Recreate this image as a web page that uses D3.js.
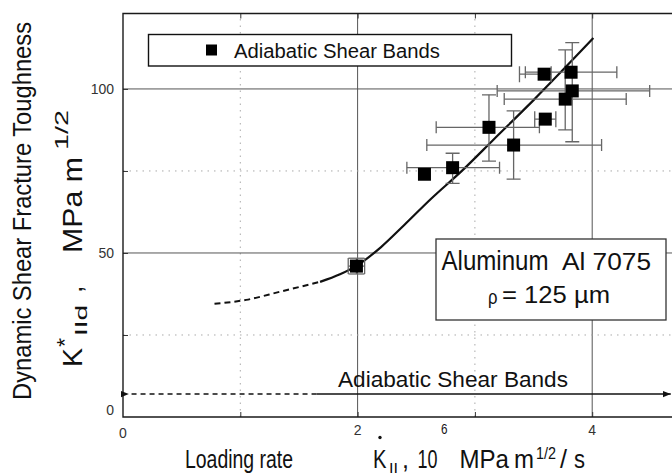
<!DOCTYPE html>
<html>
<head>
<meta charset="utf-8">
<script src="https://cdnjs.cloudflare.com/ajax/libs/d3/7.8.5/d3.min.js"></script>
<style>
	body { margin: 0; background: #fff; }
	svg { display: block; font-family: "Liberation Sans", Arial, sans-serif; }
</style>
</head>
<body>
<div class="visualisation"></div>
<script>
//----------------------------------------------------------------------------------------------------------------------------
//DATA
//----------------------------------------------------------------------------------------------------------------------------
var rateX   = [1.99, 2.57, 2.81, 3.12, 3.33, 3.60, 3.59, 3.77, 3.83, 3.82];
var toughY  = [46.0, 74.0, 76.0, 88.3, 82.9, 90.8, 104.5, 96.9, 99.4, 105.1];
var rateLo  = [1.92, null, 2.42, 2.67, 2.59, 3.51, 3.38, 3.25, 3.19, 3.43];
var rateHi  = [2.06, null, 3.21, 3.55, 4.08, 3.69, 3.65, 4.29, 4.49, 4.21];
var toughLo = [43.6, null, 71.2, 78.0, 72.5, null, null, 87.5, 83.9, null];
var toughHi = [48.4, null, 80.4, 98.2, 93.3, null, null, 111.9, 114.1, null];

//fit curve, dashed extrapolation then solid part
var fitDashX  = [0.78, 1.05, 1.34, 1.68];
var fitDashY  = [34.5, 35.7, 38.2, 41.2];
var fitSolidX = [1.68, 1.85, 2.0, 2.2, 2.4, 2.62, 2.9, 3.16, 3.5, 4.01];
var fitSolidY = [41.2, 43.5, 46.3, 51.8, 58.6, 66.3, 75.4, 84.6, 96.6, 115.5];

//regime arrow at the bottom
var bandArrowX = [0.05, 1.65, 4.67];
var bandArrowY = 7.0;

var xTickLabels = [0, 2, 4];
var yTickLabels = [0, 50, 100];
var xGridSolid = [2, 4], xGridDot = [1, 3];
var yGridSolid = [50, 100], yGridDot = [25, 75];

var legendLabel = "Adiabatic Shear Bands";

//----------------------------------------------------------------------------------------------------------------------------
//CANVAS
//----------------------------------------------------------------------------------------------------------------------------
var W = 672, H = 475;
var svg = d3.select(".visualisation").append("svg")
	.attr("width", W)
	.attr("height", H);

var x = d3.scaleLinear().domain([0, 5]).range([123, 709.5]);
var y = d3.scaleLinear().domain([0, 123]).range([417, 13.5]);

var defs = svg.append("defs");
defs.append("clipPath").attr("id", "plotclip")
	.append("rect")
	.attr("x", x(0)).attr("y", y(123))
	.attr("width", x(5) - x(0)).attr("height", y(0) - y(123));

function arrowMarker(id, dir){
	defs.append("marker")
		.attr("id", id)
		.attr("viewBox", "0 0 10 10")
		.attr("refX", dir > 0 ? 10 : 0).attr("refY", 5)
		.attr("markerWidth", 5).attr("markerHeight", 5)
		.attr("markerUnits", "strokeWidth")
		.attr("orient", "auto")
	  .append("path")
		.attr("d", dir > 0 ? "M0,1 L10,5 L0,9 Z" : "M10,1 L0,5 L10,9 Z")
		.attr("fill", "#111");
}
arrowMarker("arrowL", -1);
arrowMarker("arrowR", 1);

//text piece squeezed to a given width (the scanned figure uses a narrow face)
function addText(parent, str, px, py, size, len, anchor){
	var t = parent.append("text")
		.attr("x", px).attr("y", py)
		.attr("font-size", size)
		.attr("fill", "#111")
		.attr("text-anchor", anchor || "start")
		.text(str);
	if(len) t.attr("textLength", len).attr("lengthAdjust", "spacingAndGlyphs");
	return t;
}

//----------------------------------------------------------------------------------------------------------------------------
//GRID
//----------------------------------------------------------------------------------------------------------------------------
var grid = svg.append("g").attr("clip-path", "url(#plotclip)");

grid.selectAll(".xg").data(xGridSolid.concat(xGridDot)).enter().append("line")
	.attr("x1", d => x(d)).attr("x2", d => x(d))
	.attr("y1", y(0)).attr("y2", y(123))
	.attr("stroke", d => xGridSolid.includes(d) ? "#555" : "#aaa")
	.attr("stroke-width", 1)
	.attr("stroke-dasharray", d => xGridSolid.includes(d) ? null : "1.5,5");

grid.selectAll(".yg").data(yGridSolid.concat(yGridDot)).enter().append("line")
	.attr("x1", x(0)).attr("x2", x(5))
	.attr("y1", d => y(d)).attr("y2", d => y(d))
	.attr("stroke", d => yGridSolid.includes(d) ? "#555" : "#aaa")
	.attr("stroke-width", 1)
	.attr("stroke-dasharray", d => yGridSolid.includes(d) ? null : "1.5,5");

//----------------------------------------------------------------------------------------------------------------------------
//AXES
//----------------------------------------------------------------------------------------------------------------------------
svg.append("g")
	.attr("transform", "translate(0," + y(0) + ")")
	.call(d3.axisBottom(x).tickValues([1, 2, 3, 4]).tickSize(-5).tickFormat(""))
	.call(g => g.select(".domain").remove())
	.selectAll("line").attr("stroke", "#333");

svg.append("g")
	.attr("transform", "translate(0," + y(123) + ")")
	.call(d3.axisTop(x).tickValues([1, 2, 3, 4]).tickSize(-5).tickFormat(""))
	.call(g => g.select(".domain").remove())
	.selectAll("line").attr("stroke", "#333");

svg.append("g")
	.attr("transform", "translate(" + x(0) + ",0)")
	.call(d3.axisLeft(y).tickValues([25, 50, 75, 100]).tickSize(-5).tickFormat(""))
	.call(g => g.select(".domain").remove())
	.selectAll("line").attr("stroke", "#333");

//frame (right side is cut off by the window)
svg.append("path")
	.attr("d", "M" + x(5) + "," + y(123) + " H" + x(0) + " V" + y(0) + " H" + x(5))
	.attr("fill", "none")
	.attr("stroke", "#1a1a1a")
	.attr("stroke-width", 1.4);

svg.selectAll(".xl").data(xTickLabels).enter().append("text")
	.attr("x", d => x(d)).attr("y", d => d === 0 ? 438 : 435)
	.attr("text-anchor", "middle")
	.attr("font-size", 14).attr("fill", "#333")
	.text(d => d);

svg.selectAll(".yl").data(yTickLabels).enter().append("text")
	.attr("x", 114).attr("y", d => y(d) + 5 - (d === 0 ? 7 : 0))
	.attr("text-anchor", "end")
	.attr("font-size", 14).attr("fill", "#333")
	.text(d => d);

//----------------------------------------------------------------------------------------------------------------------------
//AXIS TITLES
//----------------------------------------------------------------------------------------------------------------------------
//rotated frame: screen (X,Y) -> text (-Y, X)
var yt = svg.append("g").attr("transform", "rotate(-90)");
addText(yt, "Dynamic Shear Fracture Toughness", -400, 31, 25, 378);
addText(yt, "K", -367, 82, 27, 19);
addText(yt, "*", -347, 72, 22, 9);
addText(yt, "IId", -336, 87, 16, 31);
addText(yt, ",", -293, 82, 27);
addText(yt, "MPa m", -253, 82, 27, 96);
addText(yt, "1/2", -150, 68, 18, 40);

var xt = svg.append("g");
addText(xt, "Loading rate", 185, 468, 25, 108);
addText(xt, "K", 373, 468, 26, 13.5);
xt.append("circle").attr("cx", 380).attr("cy", 437.5).attr("r", 1.7).attr("fill", "#111");
addText(xt, "II", 389, 473, 15, 9);
addText(xt, ",", 402, 468, 25);
addText(xt, "10", 417.5, 468, 25, 20);
addText(xt, "6", 441, 434, 15, 6.5);
addText(xt, "MPa", 459.5, 468, 25, 49.5);
addText(xt, "m", 514, 468, 25, 20);
addText(xt, "1/2", 536, 459, 16, 20);
addText(xt, "/", 560, 468, 25, 7);
addText(xt, "s", 574, 468, 25, 11);

//----------------------------------------------------------------------------------------------------------------------------
//FIT CURVE + REGIME ARROW
//----------------------------------------------------------------------------------------------------------------------------
var plot = svg.append("g").attr("clip-path", "url(#plotclip)");
var line = d3.line().x(d => x(d[0])).y(d => y(d[1])).curve(d3.curveMonotoneX);

plot.append("path")
	.attr("d", line(d3.zip(fitDashX, fitDashY)))
	.attr("fill", "none").attr("stroke", "#111")
	.attr("stroke-width", 2).attr("stroke-dasharray", "6,4");

plot.append("path")
	.attr("d", line(d3.zip(fitSolidX, fitSolidY)))
	.attr("fill", "none").attr("stroke", "#111")
	.attr("stroke-width", 2.2);

svg.append("line")
	.attr("x1", x(bandArrowX[1])).attr("x2", x(bandArrowX[0]))
	.attr("y1", y(bandArrowY)).attr("y2", y(bandArrowY))
	.attr("stroke", "#111").attr("stroke-width", 1.6)
	.attr("stroke-dasharray", "5,4")
	.attr("marker-end", "url(#arrowL)");

svg.append("line")
	.attr("x1", x(bandArrowX[1])).attr("x2", x(bandArrowX[2]))
	.attr("y1", y(bandArrowY)).attr("y2", y(bandArrowY))
	.attr("stroke", "#111").attr("stroke-width", 1.6)
	.attr("marker-end", "url(#arrowR)");

addText(svg, legendLabel, 338, 387, 22, 230);

//----------------------------------------------------------------------------------------------------------------------------
//ERROR BARS + POINTS
//----------------------------------------------------------------------------------------------------------------------------
var pts = d3.range(rateX.length).map(i => ({
	x: rateX[i], y: toughY[i],
	xlo: rateLo[i], xhi: rateHi[i], ylo: toughLo[i], yhi: toughHi[i]
}));

var eb = plot.append("g")
	.attr("stroke", "#666").attr("stroke-width", 1.3).attr("fill", "none");

pts.filter(d => d.xlo !== null).forEach(function(d){
	var cap = d.xhi - d.xlo < 0.3 ? 8 : 6;
	eb.append("line").attr("x1", x(d.xlo)).attr("x2", x(d.xhi)).attr("y1", y(d.y)).attr("y2", y(d.y));
	eb.append("line").attr("x1", x(d.xlo)).attr("x2", x(d.xlo)).attr("y1", y(d.y) - cap).attr("y2", y(d.y) + cap);
	eb.append("line").attr("x1", x(d.xhi)).attr("x2", x(d.xhi)).attr("y1", y(d.y) - cap).attr("y2", y(d.y) + cap);
});

pts.filter(d => d.ylo !== null).forEach(function(d){
	var cap = d.yhi - d.ylo < 6 ? 8 : 7;
	eb.append("line").attr("x1", x(d.x)).attr("x2", x(d.x)).attr("y1", y(d.ylo)).attr("y2", y(d.yhi));
	eb.append("line").attr("x1", x(d.x) - cap).attr("x2", x(d.x) + cap).attr("y1", y(d.ylo)).attr("y2", y(d.ylo));
	eb.append("line").attr("x1", x(d.x) - cap).attr("x2", x(d.x) + cap).attr("y1", y(d.yhi)).attr("y2", y(d.yhi));
});

var sq = 13;
plot.selectAll(".pt").data(pts).enter().append("rect")
	.attr("x", d => x(d.x) - sq / 2).attr("y", d => y(d.y) - sq / 2)
	.attr("width", sq).attr("height", sq)
	.attr("fill", "#000");

//----------------------------------------------------------------------------------------------------------------------------
//LEGEND + NOTE BOX
//----------------------------------------------------------------------------------------------------------------------------
svg.append("rect")
	.attr("x", 148.5).attr("y", 34.5).attr("width", 363).attr("height", 31.5)
	.attr("fill", "#fff").attr("stroke", "#111").attr("stroke-width", 1.4);
svg.append("rect")
	.attr("x", 206).attr("y", 44.5).attr("width", 11).attr("height", 11)
	.attr("fill", "#000");
addText(svg, legendLabel, 234, 57.5, 20, 206);

svg.append("rect")
	.attr("x", 436).attr("y", 239).attr("width", 230).attr("height", 81)
	.attr("fill", "#fff").attr("stroke", "#333").attr("stroke-width", 1.3);

addText(svg, "Aluminum", 441.5, 270, 27, 107);
addText(svg, "Al 7075", 562, 270, 23, 89);
addText(svg, "\u03C1", 488, 304, 21, 9.5);
addText(svg, "= 125 \u00B5m", 502, 303, 24, 108);
</script>
</body>
</html>
